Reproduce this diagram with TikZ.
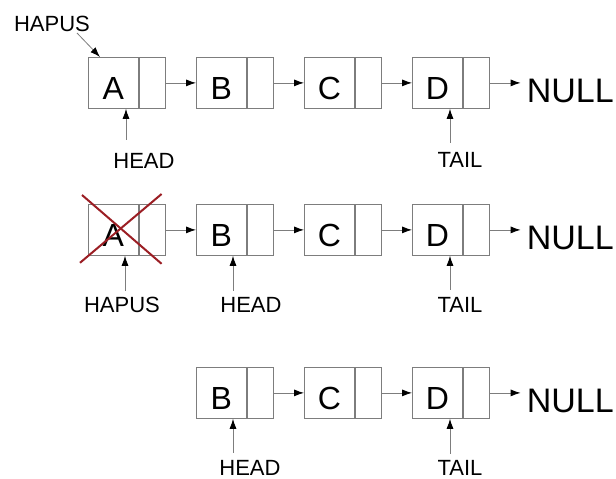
\documentclass[tikz,border=0pt]{standalone}
\usepackage{fontspec}
\setmainfont{Liberation Sans}
\usetikzlibrary{arrows.meta,calc}
\definecolor{edgegray}{RGB}{125,125,125}
\definecolor{crossred}{RGB}{155,30,36}

\begin{document}
\begin{tikzpicture}[x=1pt,y=-1pt,
  cell/.style={draw=edgegray,line width=0.8pt,minimum width=50pt,minimum height=51pt,
    inner sep=0pt,anchor=north west,font=\fontsize{32}{38}\selectfont,
    text height=33pt,text depth=0pt},
  ptrcell/.style={draw=edgegray,line width=0.8pt,minimum width=26pt,minimum height=51pt,
    inner sep=0pt,anchor=west},
  link/.style={draw=edgegray,line width=0.8pt,-{Latex[length=10pt,width=7pt,color=black]}},
  tag/.style={font=\fontsize{22}{26}\selectfont,inner sep=0pt},
  nullnode/.style={font=\fontsize{34}{40}\selectfont,inner xsep=6pt,inner ysep=0pt,
    anchor=west,text height=39pt,text depth=0pt},
  cross/.style={draw=crossred,line width=2pt}
]
\useasboundingbox (0,0) rectangle (616,479);

% ---- row 1: A -> B -> C -> D -> NULL
\foreach \n/\x/\l in {a/88/A,b/196/B,c/304/C,d/412/D}{
  \node[cell] (r1\n) at (\x,57) {\l};
  \node[ptrcell] (r1\n-p) at (r1\n.east) {};
}
\node[nullnode] (null1) at ($(r1d-p.east)+(31,0)$) {NULL};
\draw[link] (r1a-p.east) -- (r1b.west);
\draw[link] (r1b-p.east) -- (r1c.west);
\draw[link] (r1c-p.east) -- (r1d.west);
\draw[link] (r1d-p.east) -- (null1.west);

\node[tag] (hapus1) at (52,24) {HAPUS};
\coordinate (hapus1-from) at (77,33);
\draw[link] (hapus1-from) -- ($(r1a.north west)+(12,0)$);

\node[tag] (head1) at (144,161) {HEAD};
\coordinate (head1-from) at ($(r1a.south west)+(38,31)$);
\draw[link] (head1-from) -- (head1-from |- r1a.south);

\node[tag] (tail1) at (460,160) {TAIL};
\coordinate (tail1-from) at ($(r1d.south west)+(38,34)$);
\draw[link] (tail1-from) -- (tail1-from |- r1d.south);

% ---- row 2: A is crossed out, HEAD moves to B
\foreach \n/\x/\l in {a/88/A,b/196/B,c/304/C,d/412/D}{
  \node[cell] (r2\n) at (\x,204) {\l};
  \node[ptrcell] (r2\n-p) at (r2\n.east) {};
}
\node[nullnode] (null2) at ($(r2d-p.east)+(31,0)$) {NULL};
\draw[link] (r2a-p.east) -- (r2b.west);
\draw[link] (r2b-p.east) -- (r2c.west);
\draw[link] (r2c-p.east) -- (r2d.west);
\draw[link] (r2d-p.east) -- (null2.west);

\draw[cross] ($(r2a.north west)+(-6,-9)$) -- ($(r2a-p.south east)+(-4,8)$);
\draw[cross] ($(r2a-p.north east)+(-4,-10)$) -- ($(r2a.south west)+(-8,7)$);

\node[tag] (hapus2) at (122,305) {HAPUS};
\coordinate (hapus2-from) at ($(r2a.south west)+(37,35)$);
\draw[link] (hapus2-from) -- (hapus2-from |- r2a.south);

\node[tag] (head2) at (251,305) {HEAD};
\coordinate (head2-from) at ($(r2b.south west)+(37,35)$);
\draw[link] (head2-from) -- (head2-from |- r2b.south);

\node[tag] (tail2) at (460,305) {TAIL};
\coordinate (tail2-from) at ($(r2d.south west)+(38,34)$);
\draw[link] (tail2-from) -- (tail2-from |- r2d.south);

% ---- row 3: B -> C -> D -> NULL
\foreach \n/\x/\l in {b/196/B,c/304/C,d/412/D}{
  \node[cell] (r3\n) at (\x,367) {\l};
  \node[ptrcell] (r3\n-p) at (r3\n.east) {};
}
\node[nullnode] (null3) at ($(r3d-p.east)+(31,0)$) {NULL};
\draw[link] (r3b-p.east) -- (r3c.west);
\draw[link] (r3c-p.east) -- (r3d.west);
\draw[link] (r3d-p.east) -- (null3.west);

\node[tag] (head3) at (250,468) {HEAD};
\coordinate (head3-from) at ($(r3b.south west)+(37,34)$);
\draw[link] (head3-from) -- (head3-from |- r3b.south);

\node[tag] (tail3) at (460,468) {TAIL};
\coordinate (tail3-from) at ($(r3d.south west)+(38,35)$);
\draw[link] (tail3-from) -- (tail3-from |- r3d.south);
\end{tikzpicture}
\end{document}
